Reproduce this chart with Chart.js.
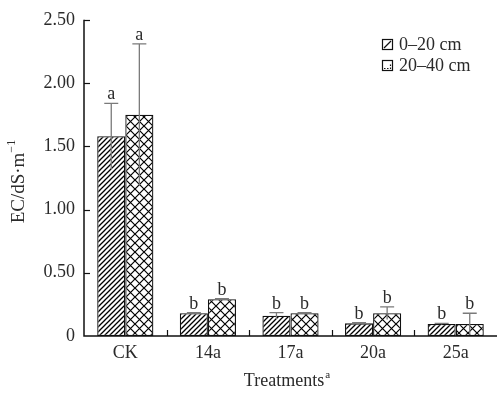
<!DOCTYPE html>
<html>
<head>
<meta charset="utf-8">
<script src="https://cdn.jsdelivr.net/npm/chart.js@4.4.0/dist/chart.umd.min.js"></script>
<style>
  html, body { margin: 0; padding: 0; background: #fff; }
</style>
</head>
<body>
<canvas id="chart" width="497" height="394"></canvas>
<script>
// data
const categories = ['CK', '14a', '17a', '20a', '25a'];
const seriesNames = ['0\u201320 cm', '20\u201340 cm'];
const shallow = [1.58, 0.18, 0.16, 0.10, 0.095];
const shallowErr = [0.26, 0.005, 0.025, 0.005, 0.005];
const deep = [1.75, 0.29, 0.18, 0.18, 0.095];
const deepErr = [0.56, 0.005, 0.005, 0.05, 0.085];
const shallowLetters = ['a', 'b', 'b', 'b', 'b'];
const deepLetters = ['a', 'b', 'b', 'b', 'b'];
const yTicks = [0, 0.5, 1, 1.5, 2, 2.5];
const yTickLabels = ['0', '0.50', '1.00', '1.50', '2.00', '2.50'];

const FONT = '"Liberation Serif", "Times New Roman", serif';
const TEXT = '#2a2a2a';

// hatch patterns
function diagPattern() {
  const s = 5;
  const c = document.createElement('canvas');
  c.width = s; c.height = s;
  const g = c.getContext('2d');
  g.fillStyle = '#fff';
  g.fillRect(0, 0, s, s);
  g.strokeStyle = '#000';
  g.lineWidth = 1.3;
  g.beginPath();
  g.moveTo(-1, s + 1); g.lineTo(s + 1, -1);
  g.moveTo(-1, 1); g.lineTo(1, -1);
  g.moveTo(s - 1, s + 1); g.lineTo(s + 1, s - 1);
  g.stroke();
  return g.createPattern(c, 'repeat');
}

function crossPattern() {
  const s = 9;
  const c = document.createElement('canvas');
  c.width = s; c.height = s;
  const g = c.getContext('2d');
  g.fillStyle = '#fff';
  g.fillRect(0, 0, s, s);
  g.strokeStyle = '#000';
  g.lineWidth = 1.2;
  g.beginPath();
  g.moveTo(0, 0); g.lineTo(s, s);
  g.moveTo(0, s); g.lineTo(s, 0);
  g.stroke();
  return g.createPattern(c, 'repeat');
}

const diag = diagPattern();
const cross = crossPattern();

const errors = [shallowErr, deepErr];
const letters = [shallowLetters, deepLetters];

// axes, inward ticks, error bars, letters, legend, titles
const decorPlugin = {
  id: 'decor',
  afterDatasetsDraw(chart) {
    const ctx = chart.ctx;
    const area = chart.chartArea;
    const y = chart.scales.y;
    ctx.save();

    // error bars
    ctx.strokeStyle = '#7a7a7a';
    ctx.lineWidth = 1.3;
    chart.data.datasets.forEach((ds, di) => {
      const meta = chart.getDatasetMeta(di);
      meta.data.forEach((bar, i) => {
        const v = ds.data[i];
        const e = errors[di][i];
        const top = y.getPixelForValue(v + e);
        const bot = y.getPixelForValue(v - e);
        ctx.beginPath();
        ctx.moveTo(bar.x, bot);
        ctx.lineTo(bar.x, top);
        ctx.moveTo(bar.x - 7, top);
        ctx.lineTo(bar.x + 7, top);
        ctx.stroke();
      });
    });

    // significance letters
    ctx.fillStyle = TEXT;
    ctx.font = '18px ' + FONT;
    ctx.textAlign = 'center';
    ctx.textBaseline = 'alphabetic';
    chart.data.datasets.forEach((ds, di) => {
      const meta = chart.getDatasetMeta(di);
      meta.data.forEach((bar, i) => {
        const top = y.getPixelForValue(ds.data[i] + errors[di][i]);
        ctx.fillText(letters[di][i], bar.x, top - 4);
      });
    });

    // axis lines
    ctx.strokeStyle = '#111';
    ctx.lineWidth = 1.5;
    ctx.beginPath();
    ctx.moveTo(area.left, area.top);
    ctx.lineTo(area.left, area.bottom);
    ctx.lineTo(area.right, area.bottom);
    ctx.stroke();

    // inward y ticks
    ctx.lineWidth = 1.2;
    yTicks.forEach(t => {
      if (t === 0) return;
      const py = Math.round(y.getPixelForValue(t)) + 0.5;
      ctx.beginPath();
      ctx.moveTo(area.left, py);
      ctx.lineTo(area.left + 6, py);
      ctx.stroke();
    });

    // inward x ticks between categories
    const catW = (area.right - area.left) / categories.length;
    for (let i = 1; i < categories.length; i++) {
      const px = Math.round(area.left + i * catW) + 0.5;
      ctx.beginPath();
      ctx.moveTo(px, area.bottom);
      ctx.lineTo(px, area.bottom - 6);
      ctx.stroke();
    }

    // legend
    const lx = 382, ly = [39, 60], box = 10;
    ctx.font = '18px ' + FONT;
    ctx.textAlign = 'left';
    ctx.textBaseline = 'middle';
    [diag, cross].forEach((p, k) => {
      ctx.fillStyle = '#fff';
      ctx.fillRect(lx, ly[k], box, box);
      ctx.strokeStyle = '#111';
      ctx.lineWidth = 1.2;
      ctx.strokeRect(lx + 0.5, ly[k] + 0.5, box, box);
      ctx.beginPath();
      if (k === 0) {
        ctx.moveTo(lx + 2, ly[k] + box - 1);
        ctx.lineTo(lx + box - 1, ly[k] + 2);
      } else {
        ctx.setLineDash([1.5, 1.5]);
        ctx.moveTo(lx + 2, ly[k] + box - 1.5);
        ctx.lineTo(lx + box - 1.5, ly[k] + box - 1.5);
        ctx.lineTo(lx + box - 1.5, ly[k] + 3);
      }
      ctx.stroke();
      ctx.setLineDash([]);
      ctx.fillStyle = TEXT;
      ctx.fillText(seriesNames[k], lx + 17, ly[k] + box / 2 + 1);
    });

    // axis titles
    ctx.fillStyle = TEXT;
    ctx.font = '18px ' + FONT;
    ctx.textAlign = 'center';
    ctx.textBaseline = 'middle';
    const tx = 284;
    const main = 'Treatments';
    const w = ctx.measureText(main).width;
    ctx.fillText(main, tx, 381);
    ctx.font = '11px ' + FONT;
    ctx.textAlign = 'left';
    ctx.fillText('a', tx + w / 2 + 1, 375);

    ctx.save();
    ctx.translate(19, 181);
    ctx.rotate(-Math.PI / 2);
    ctx.font = '19px ' + FONT;
    ctx.textAlign = 'center';
    const yt = 'EC/dS\u00b7m';
    const yw = ctx.measureText(yt).width;
    ctx.fillText(yt, -7, 0);
    ctx.font = '12px ' + FONT;
    ctx.textAlign = 'left';
    ctx.fillText('\u22121', -7 + yw / 2, -7);
    ctx.restore();

    ctx.restore();
  }
};

new Chart(document.getElementById('chart'), {
  type: 'bar',
  data: {
    labels: categories,
    datasets: [
      {
        label: seriesNames[0],
        data: shallow,
        backgroundColor: diag,
        borderColor: '#111',
        borderWidth: 1.3,
        borderSkipped: false
      },
      {
        label: seriesNames[1],
        data: deep,
        backgroundColor: cross,
        borderColor: '#111',
        borderWidth: 1.3,
        borderSkipped: false
      }
    ]
  },
  options: {
    responsive: false,
    animation: false,
    devicePixelRatio: 1,
    layout: { padding: { top: 19, right: 0, left: 0, bottom: 0 } },
    categoryPercentage: 0.68,
    barPercentage: 1.0,
    plugins: {
      legend: { display: false },
      tooltip: { enabled: false }
    },
    scales: {
      x: {
        grid: { display: false, drawTicks: false },
        border: { display: false },
        ticks: {
          color: TEXT,
          padding: 6,
          font: { family: FONT, size: 18 }
        },
        afterFit(scale) { scale.height = 58; }
      },
      y: {
        min: 0,
        max: 2.5,
        afterBuildTicks(scale) {
          scale.ticks = yTicks.map(v => ({ value: v }));
        },
        grid: { display: false, drawTicks: false },
        border: { display: false },
        ticks: {
          color: TEXT,
          padding: 9,
          font: { family: FONT, size: 18 },
          callback(value) {
            const i = yTicks.indexOf(value);
            return i >= 0 ? yTickLabels[i] : '';
          }
        },
        afterFit(scale) { scale.width = 84; }
      }
    }
  },
  plugins: [decorPlugin]
});
</script>
</body>
</html>
